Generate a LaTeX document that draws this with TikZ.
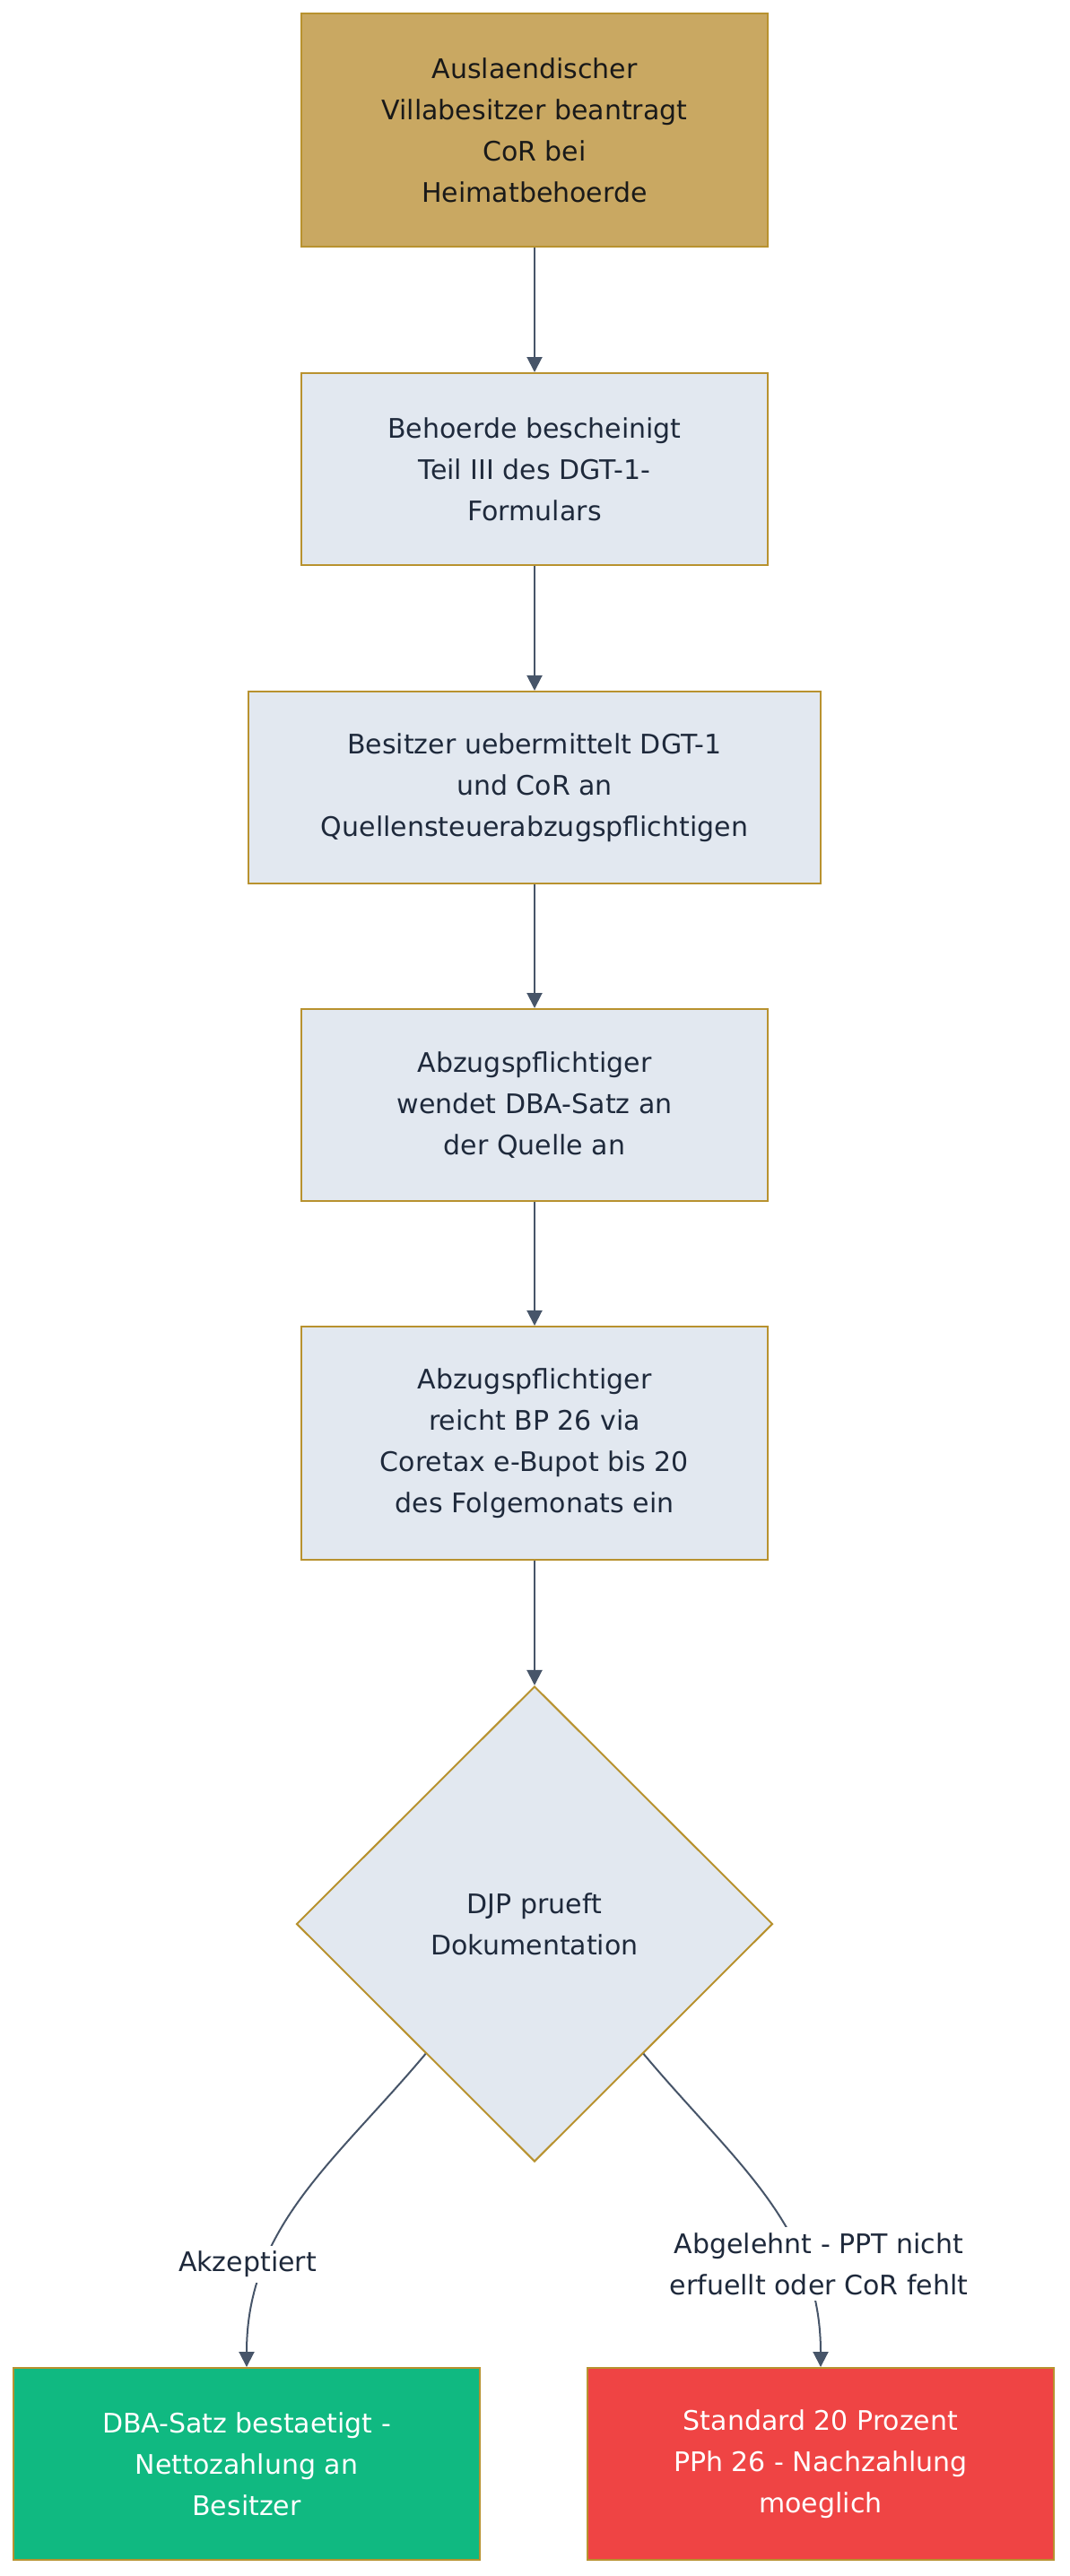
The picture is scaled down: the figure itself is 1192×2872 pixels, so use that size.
\documentclass[tikz,border=0pt]{standalone}
\usepackage{fontspec}
\setmainfont{DejaVu Sans}
\usetikzlibrary{arrows.meta,shapes.geometric}
\definecolor{topfill}{HTML}{C9A862}
\definecolor{goldline}{HTML}{B8922F}
\definecolor{lightfill}{HTML}{E2E8F0}
\definecolor{txt}{HTML}{1E293B}
\definecolor{conncol}{HTML}{475569}
\definecolor{okfill}{HTML}{10B981}
\definecolor{badfill}{HTML}{EF4444}
\begin{document}
\begin{tikzpicture}[x=1pt,y=1pt,
  stepbox/.style={draw=goldline, line width=2pt, fill=lightfill, text=txt,
    minimum width=520pt, minimum height=214pt, inner sep=0pt, align=center,
    font=\fontsize{30}{46}\selectfont},
  decbox/.style={stepbox, shape=diamond, aspect=1, minimum width=531pt, minimum height=530pt},
  conn/.style={draw=conncol, line width=2pt, -{Triangle[length=17pt,width=17pt]}},
  lbl/.style={fill=white, text=txt, inner xsep=4pt, inner ysep=6pt, align=center,
    font=\fontsize{30}{46}\selectfont}
]
\useasboundingbox (0,0) rectangle (1192,-2872);
\fill[white] (0,0) rectangle (1192,-2872);

\node[stepbox, fill=topfill, text=black!90, minimum height=260pt] (a) at (596,-145)
  {Auslaendischer\\Villabesitzer beantragt\\CoR bei\\Heimatbehoerde};
\node[stepbox] (b) at (596,-523) {Behoerde bescheinigt\\Teil III des DGT-1-\\Formulars};
\node[stepbox, minimum width=638pt] (c) at (596,-878) {Besitzer uebermittelt DGT-1\\und CoR an\\Quellensteuerabzugspflichtigen};
\node[stepbox] (d) at (596,-1232) {Abzugspflichtiger\\wendet DBA-Satz an\\der Quelle an};
\node[stepbox, minimum height=260pt] (e) at (596,-1609) {Abzugspflichtiger\\reicht BP 26 via\\Coretax e-Bupot bis 20\\des Folgemonats ein};
\node[decbox] (dec) at (596,-2145) {DJP prueft\\Dokumentation};
\node[stepbox, fill=okfill, text=white] (f) at (275,-2747) {DBA-Satz bestaetigt -\\Nettozahlung an\\Besitzer};
\node[stepbox, fill=badfill, text=white] (g) at (915,-2747) {Standard 20 Prozent\\PPh 26 - Nachzahlung\\moeglich};

\draw[conn] (a) -- (b);
\draw[conn] (b) -- (c);
\draw[conn] (c) -- (d);
\draw[conn] (d) -- (e);
\draw[conn] (e) -- (dec);
\draw[conn] (dec.230) to[out=230, in=90, looseness=1.0] (f.north);
\draw[conn] (dec.310) to[out=-50, in=90, looseness=1.0] (g.north);

\node[lbl] (la) at (276,-2524) {Akzeptiert};
\node[lbl] (lb) at (913,-2524) {Abgelehnt - PPT nicht\\erfuellt oder CoR fehlt};
\end{tikzpicture}
\end{document}
